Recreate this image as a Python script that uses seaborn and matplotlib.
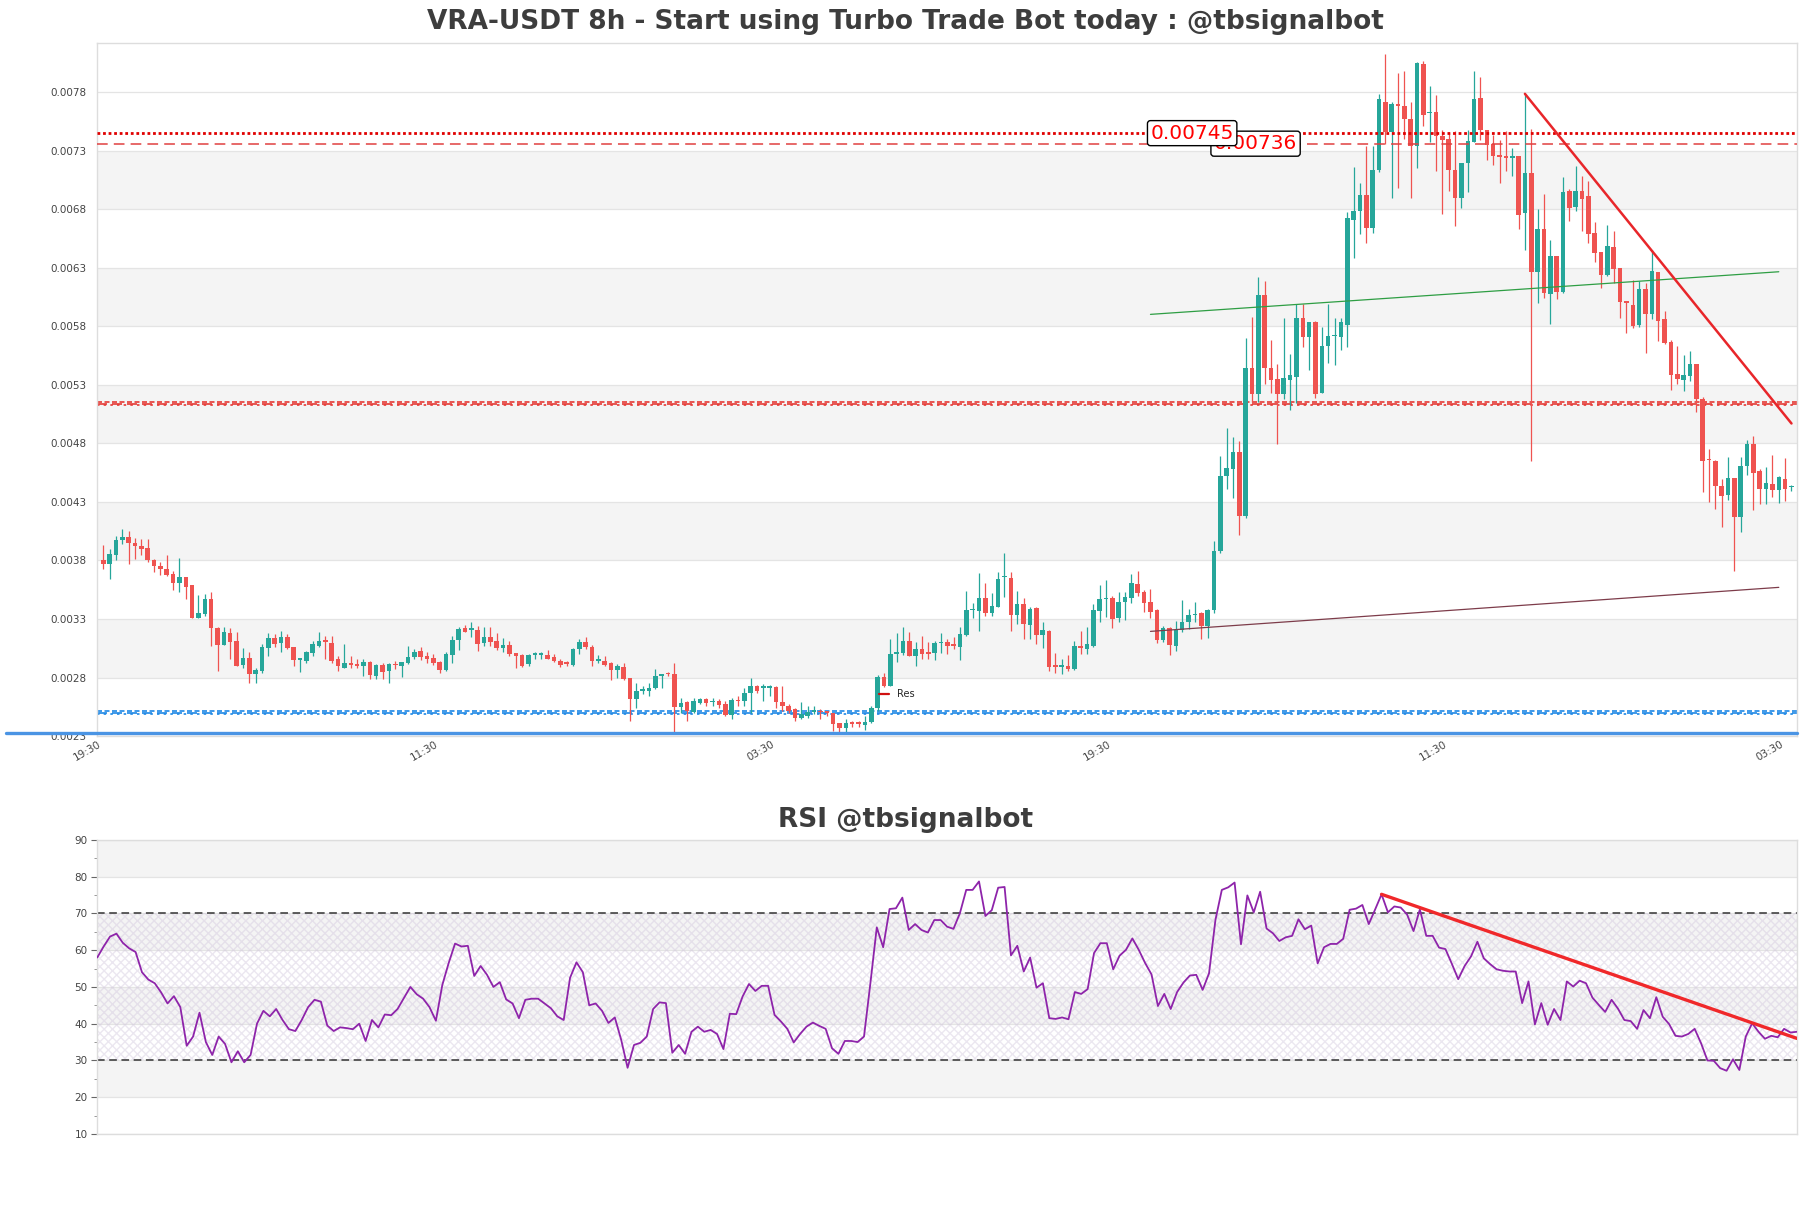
import numpy as np
import matplotlib
matplotlib.use("Agg")
import matplotlib.pyplot as plt
from matplotlib.lines import Line2D
from matplotlib.ticker import AutoMinorLocator
import seaborn as sns

# prices, in units of 1e-4 (38.00 -> 0.0038)
open_e4 = [
    38.00, 37.72, 38.49, 39.72, 40.00, 39.52, 39.26, 39.06, 38.06, 37.54,
    37.29, 36.86, 36.09, 36.57, 35.86, 33.06, 33.43, 34.71, 32.20, 30.77,
    31.80, 31.11, 29.05, 29.65, 28.31, 28.57, 30.54, 31.34, 30.94, 31.45,
    30.60, 29.51, 29.40, 30.08, 30.71, 31.08, 30.94, 29.57, 28.85, 29.22,
    29.17, 29.00, 29.34, 28.14, 29.08, 28.54, 29.10, 29.00, 29.22, 29.71,
    30.25, 29.85, 29.65, 29.34, 28.62, 29.94, 31.17, 32.20, 32.09, 32.05,
    30.94, 31.48, 31.11, 30.51, 30.80, 30.08, 29.92, 29.14, 29.92, 29.92,
    29.92, 29.72, 29.43, 29.20, 29.09, 30.43, 31.00, 30.63, 29.40, 29.43,
    29.23, 28.66, 28.89, 27.94, 26.14, 26.88, 26.86, 27.14, 28.09, 28.29,
    28.29, 25.48, 25.91, 25.08, 25.86, 26.14, 25.89, 26.00, 25.71, 24.80,
    26.02, 26.00, 26.71, 27.29, 27.12, 27.12, 27.20, 25.91, 25.57, 25.28,
    24.51, 24.71, 25.06, 25.07, 25.02, 24.94, 24.08, 23.65, 24.10, 24.07,
    23.94, 24.23, 25.37, 28.06, 27.29, 30.04, 30.06, 31.15, 29.86, 30.43,
    30.08, 30.06, 30.92, 31.00, 30.74, 30.63, 31.63, 33.75, 33.71, 34.77,
    33.51, 34.06, 36.55, 36.49, 33.34, 34.29, 32.48, 33.94, 31.63, 32.00,
    28.93, 28.89, 28.94, 28.71, 30.59, 30.43, 30.71, 33.71, 34.69, 34.80,
    33.06, 34.43, 34.80, 36.00, 35.34, 34.49, 33.80, 31.20, 32.23, 30.71,
    32.06, 32.77, 33.32, 33.51, 32.43, 33.77, 38.77, 45.19, 45.77, 47.30,
    41.80, 54.40, 52.18, 60.65, 54.40, 53.49, 52.18, 53.42, 53.68, 58.69,
    57.07, 58.40, 52.28, 56.35, 57.14, 57.07, 58.14, 67.09, 67.84, 69.21,
    66.44, 71.32, 77.18, 74.58, 76.88, 76.86, 75.72, 73.44, 80.44, 76.19,
    76.27, 74.25, 73.99, 71.39, 68.95, 71.97, 73.76, 77.49, 74.79, 73.57,
    72.66, 72.57, 72.38, 72.57, 67.69, 71.10, 62.63, 66.32, 60.73, 63.99,
    60.95, 69.59, 68.17, 69.59, 69.16, 65.98, 64.33, 62.37, 64.79, 62.94,
    60.10, 59.79, 58.08, 61.15, 59.02, 62.63, 58.59, 56.66, 53.91, 53.42,
    53.76, 54.76, 51.83, 46.58, 46.52, 44.39, 43.59, 45.01, 41.75, 46.04,
    47.94, 45.61, 44.11, 44.53, 44.05, 44.96, 44.24,
]
high_e4 = [
    39.29, 39.00, 40.06, 40.72, 40.49, 39.92, 39.86, 39.86, 38.14, 37.86,
    38.43, 37.14, 38.20, 36.57, 35.91, 35.06, 35.14, 35.34, 32.28, 32.28,
    32.20, 31.85, 30.51, 30.14, 28.85, 30.85, 31.77, 31.71, 31.94, 31.71,
    30.62, 29.62, 30.28, 31.14, 31.85, 31.57, 31.57, 29.85, 30.85, 29.85,
    29.62, 29.62, 29.40, 29.14, 29.28, 29.28, 29.40, 29.34, 30.71, 30.42,
    30.62, 30.14, 30.00, 29.42, 30.22, 31.51, 32.34, 32.48, 32.71, 32.43,
    32.28, 32.28, 31.77, 31.34, 31.08, 30.08, 30.00, 30.00, 30.14, 30.14,
    30.34, 30.00, 29.57, 29.43, 30.49, 31.29, 31.43, 30.77, 29.92, 29.80,
    29.29, 29.14, 29.23, 28.00, 27.57, 27.29, 27.49, 28.71, 28.34, 28.43,
    29.23, 26.23, 26.00, 26.28, 26.23, 26.28, 26.26, 26.14, 26.00, 26.28,
    26.43, 27.08, 28.00, 27.34, 27.43, 27.37, 27.29, 27.29, 25.71, 25.37,
    25.91, 25.57, 25.57, 25.28, 25.05, 25.00, 24.14, 24.48, 24.28, 24.28,
    24.71, 25.57, 28.23, 28.37, 31.29, 31.77, 32.29, 31.86, 31.00, 31.57,
    31.00, 31.15, 31.77, 31.29, 31.43, 32.29, 35.43, 34.37, 36.94, 36.09,
    35.23, 37.00, 38.66, 37.00, 35.37, 34.77, 34.00, 34.06, 32.71, 32.06,
    30.08, 29.57, 29.91, 31.08, 32.00, 32.28, 34.29, 35.91, 36.34, 35.00,
    35.34, 35.29, 36.86, 37.09, 35.51, 35.57, 33.86, 32.37, 32.28, 32.86,
    34.63, 33.86, 34.43, 33.57, 33.86, 39.63, 46.91, 49.35, 48.54, 48.21,
    57.00, 58.79, 62.21, 61.88, 56.84, 54.79, 58.69, 55.63, 59.87, 59.87,
    58.40, 58.47, 57.91, 59.87, 58.69, 58.69, 67.74, 71.58, 70.28, 73.44,
    73.44, 77.83, 81.25, 77.18, 79.62, 79.85, 77.12, 80.59, 80.70, 78.55,
    77.74, 74.74, 74.58, 74.71, 71.97, 74.74, 79.85, 79.30, 74.79, 74.36,
    73.94, 74.65, 73.23, 72.57, 77.86, 74.85, 68.03, 69.31, 65.41, 64.00,
    70.75, 69.76, 71.66, 70.81, 70.38, 66.89, 64.33, 66.69, 66.12, 63.00,
    60.16, 61.95, 61.86, 61.72, 64.50, 62.63, 59.30, 56.81, 56.32, 55.53,
    55.90, 54.76, 51.92, 47.51, 46.58, 44.96, 46.80, 45.01, 46.86, 48.28,
    48.59, 45.81, 45.95, 47.00, 45.24, 46.72, 44.45,
]
low_e4 = [
    37.23, 36.43, 38.00, 39.43, 37.66, 38.14, 38.43, 37.86, 37.00, 36.77,
    36.71, 35.51, 35.34, 34.71, 33.06, 33.06, 33.28, 30.71, 28.57, 30.77,
    29.57, 29.00, 28.85, 27.57, 27.57, 28.42, 29.85, 30.57, 30.20, 30.42,
    29.00, 28.48, 29.28, 29.85, 30.57, 29.57, 29.28, 28.57, 28.77, 28.85,
    28.80, 28.14, 27.85, 27.85, 27.85, 27.57, 28.71, 28.05, 29.14, 29.57,
    29.48, 29.28, 29.05, 28.37, 28.57, 29.22, 30.31, 31.91, 31.42, 30.28,
    30.71, 30.71, 30.37, 30.14, 29.85, 28.85, 28.86, 29.00, 29.57, 29.57,
    29.57, 29.29, 28.86, 29.00, 29.00, 30.00, 30.43, 29.00, 29.20, 29.00,
    27.80, 28.00, 27.80, 24.28, 25.43, 26.57, 26.43, 26.98, 27.14, 28.14,
    23.28, 25.00, 24.28, 25.00, 25.71, 25.57, 25.57, 25.43, 24.71, 24.43,
    25.57, 25.57, 25.00, 26.71, 26.00, 26.43, 25.43, 25.14, 25.00, 24.28,
    24.43, 24.57, 24.86, 24.43, 24.71, 23.43, 23.14, 23.37, 23.80, 23.80,
    23.51, 24.14, 25.14, 27.23, 27.29, 29.29, 29.94, 29.80, 29.00, 29.57,
    29.57, 29.51, 30.09, 29.99, 30.43, 29.51, 31.57, 33.08, 32.00, 33.23,
    33.23, 34.00, 34.86, 32.00, 32.57, 31.28, 31.28, 30.85, 30.54, 28.57,
    28.42, 28.34, 28.57, 28.65, 30.00, 30.05, 30.57, 32.77, 33.14, 32.20,
    32.77, 32.91, 34.37, 35.00, 33.63, 33.08, 30.94, 31.00, 29.91, 30.28,
    31.91, 32.14, 32.71, 31.28, 31.37, 33.51, 38.67, 44.14, 43.33, 40.14,
    41.64, 51.53, 51.53, 53.09, 52.28, 47.98, 51.79, 50.82, 51.47, 56.19,
    54.23, 51.89, 52.28, 54.88, 54.72, 55.96, 56.19, 63.84, 65.85, 65.14,
    65.95, 71.16, 73.54, 68.95, 69.79, 74.02, 68.95, 71.49, 75.07, 73.76,
    71.23, 67.58, 69.53, 66.54, 68.07, 69.44, 73.76, 73.93, 72.23, 71.81,
    70.24, 71.24, 70.81, 66.27, 64.56, 46.52, 60.01, 60.44, 58.17, 60.36,
    60.87, 66.98, 67.83, 66.12, 65.13, 63.48, 61.29, 62.29, 61.72, 58.68,
    57.46, 57.88, 57.97, 55.70, 58.65, 56.75, 56.46, 52.57, 53.05, 52.49,
    53.34, 50.64, 43.82, 43.03, 42.40, 40.84, 43.20, 37.06, 40.41, 45.30,
    42.34, 42.83, 42.83, 43.40, 42.91, 43.11, 43.91,
]
close_e4 = [
    37.66, 38.57, 39.77, 40.00, 39.49, 39.23, 39.00, 38.00, 37.49, 37.23,
    36.77, 36.09, 36.57, 35.77, 33.06, 33.51, 34.71, 32.20, 30.77, 31.91,
    31.05, 29.00, 29.65, 28.31, 28.62, 30.60, 31.34, 30.85, 31.45, 30.54,
    29.51, 29.54, 30.14, 30.88, 31.11, 31.05, 29.42, 29.00, 29.22, 29.05,
    29.00, 29.34, 28.19, 29.05, 28.48, 29.14, 29.05, 29.34, 29.74, 30.20,
    29.77, 29.57, 29.22, 28.65, 29.99, 31.22, 32.14, 31.91, 32.14, 30.85,
    31.45, 31.05, 30.51, 30.80, 30.05, 29.85, 29.00, 29.92, 29.94, 29.94,
    29.57, 29.43, 29.09, 29.17, 30.43, 31.00, 30.57, 29.43, 29.49, 29.09,
    28.66, 29.00, 27.86, 26.14, 26.88, 26.94, 27.14, 28.14, 28.29, 28.26,
    25.48, 25.86, 25.14, 25.97, 26.14, 25.80, 25.93, 25.66, 24.80, 26.06,
    25.97, 26.71, 27.29, 26.86, 27.16, 27.16, 25.91, 25.57, 25.14, 24.51,
    24.86, 25.05, 25.10, 25.03, 24.98, 24.05, 23.65, 24.08, 24.06, 24.03,
    24.23, 25.43, 28.06, 27.29, 30.00, 30.08, 31.15, 29.86, 30.43, 30.00,
    30.04, 30.94, 30.96, 30.72, 30.70, 31.72, 33.80, 33.79, 34.77, 33.51,
    34.09, 36.43, 36.59, 33.34, 34.29, 32.57, 33.86, 31.63, 32.06, 28.91,
    28.89, 28.93, 28.71, 30.65, 30.55, 30.85, 33.77, 34.71, 34.73, 33.00,
    34.49, 34.91, 36.09, 35.23, 34.37, 33.63, 31.20, 32.23, 30.77, 32.06,
    32.71, 33.34, 33.36, 32.43, 33.77, 38.80, 45.19, 45.87, 47.30, 41.80,
    54.46, 52.18, 60.65, 54.40, 53.42, 52.18, 53.58, 53.81, 58.73, 57.07,
    58.40, 52.18, 56.35, 57.16, 57.18, 58.37, 67.25, 67.84, 69.21, 66.44,
    71.39, 77.41, 74.58, 77.02, 76.84, 75.72, 73.44, 80.53, 76.04, 76.23,
    74.25, 73.93, 71.39, 68.95, 71.97, 73.86, 77.44, 74.79, 73.51, 72.57,
    72.46, 72.34, 72.40, 67.54, 71.10, 62.63, 66.32, 60.87, 63.99, 60.95,
    69.48, 68.11, 69.59, 68.88, 65.90, 64.22, 62.37, 64.90, 62.91, 60.10,
    60.02, 58.03, 61.15, 59.02, 62.71, 58.45, 56.61, 53.82, 53.48, 53.82,
    54.76, 51.78, 46.52, 46.56, 44.39, 43.54, 45.01, 41.75, 46.04, 47.94,
    45.47, 44.11, 44.59, 44.05, 45.10, 44.11, 44.28,
]
rsi_vals = [
    58, 61, 63.7, 64.5, 62, 60.5, 59.5, 54, 52, 51,
    48.5, 45.5, 47.5, 44.5, 34, 36.5, 43, 35, 31.5, 36.5,
    34.5, 29.5, 32.5, 29.5, 31.5, 40, 43.5, 42, 44, 41,
    38.5, 38, 41, 44.5, 46.5, 46, 39.5, 38, 39, 38.8,
    38.5, 40, 35.3, 41, 39, 42.5, 42.3, 44, 47, 50,
    48, 46.8, 44.5, 40.8, 50.5, 56.5, 61.8, 61, 61.2, 53,
    55.7, 53.3, 50, 51.3, 46.6, 45.5, 41.5, 46.5, 46.8, 46.8,
    45.5, 44.2, 42, 41, 52.5, 56.7, 54, 45, 45.5, 43.5,
    40.2, 41.7, 35.6, 28, 34.2, 34.8, 36.5, 44.0, 45.8, 45.6,
    32.1, 34.2, 31.8, 37.8, 39.2, 37.8, 38.3, 37.2, 33.1, 42.7,
    42.6, 47.4, 50.8, 48.9, 50.3, 50.3, 42.4, 40.6, 38.6, 34.9,
    37.2, 39.2, 40.3, 39.4, 38.6, 33.3, 31.8, 35.3, 35.3, 35.0,
    36.5, 51.0, 66.2, 60.8, 71.2, 71.4, 74.3, 65.5, 67.1, 65.5,
    64.8, 68.2, 68.2, 66.4, 65.8, 70.0, 76.4, 76.4, 78.7, 69.3,
    70.9, 77.0, 77.2, 58.6, 61.2, 54.2, 58.0, 49.8, 51.0, 41.5,
    41.3, 41.7, 41.2, 48.6, 48.1, 49.4, 59.2, 61.9, 61.9, 54.8,
    58.5, 60.1, 63.2, 60.1, 56.5, 53.4, 44.8, 48.1, 44.0, 48.6,
    51.2, 53.1, 53.3, 49.2, 53.7, 68.2, 76.4, 77.1, 78.4, 61.6,
    74.9, 70.3, 75.9, 65.9, 64.6, 62.5, 63.5, 63.9, 68.4, 65.7,
    66.7, 56.4, 60.8, 61.7, 61.7, 63.1, 71.0, 71.3, 72.3, 67.1,
    71.1, 75.2, 70.3, 71.9, 71.6, 69.7, 65.2, 71.1, 63.9, 63.9,
    60.7, 60.3, 56.3, 52.1, 55.7, 58.3, 62.3, 57.8, 56.2, 54.8,
    54.4, 54.2, 54.2, 45.6, 51.5, 39.8, 45.6, 39.7, 44.0, 41.0,
    51.5, 50.1, 51.7, 51.0, 47.1, 45.1, 43.2, 46.5, 44.1, 41.0,
    40.7, 38.6, 43.7, 41.5, 47.2, 41.9, 39.9, 36.7, 36.5, 37.2,
    38.6, 34.7, 30.0, 29.9, 27.9, 27.2, 30.3, 27.4, 36.5, 40.1,
    37.8, 35.9, 36.7, 36.3, 38.6, 37.6, 37.8,
]

tick_pos = [0, 53, 106, 159, 212, 265]
tick_labels = ["19:30", "11:30", "03:30", "19:30", "11:30", "03:30"]
price_ticks = [0.0023, 0.0028, 0.0033, 0.0038, 0.0043, 0.0048,
               0.0053, 0.0058, 0.0063, 0.0068, 0.0073, 0.0078]
rsi_ticks = [10, 20, 30, 40, 50, 60, 70, 80, 90]

# levels and trend lines
level_hi = 0.00745
level_hi2 = 0.00736
res_level = 0.00514
sup_level = 0.0025
sup_low = 0.002328
green_trend_x, green_trend_y = [165, 264], [0.005902, 0.006266]
brown_trend_x, brown_trend_y = [165, 264], [0.003194, 0.00357]
red_trend_x, red_trend_y = [224, 266], [0.007786, 0.00497]
rsi_trend_x, rsi_trend_y = [201, 266], [75.2, 36.0]

GREEN = "#26a69a"
RED = "#ef5350"
BAND = "#f4f4f4"
GRID = "#e4e4e4"
SPINE = "#dddddd"

sns.set_style("white")
plt.rcParams["font.family"] = ["DejaVu Sans"]

o = np.array(open_e4) * 1e-4
h = np.array(high_e4) * 1e-4
l = np.array(low_e4) * 1e-4
c = np.array(close_e4) * 1e-4
x = np.arange(len(o))
up = c >= o
dn = ~up

fig = plt.figure(figsize=(18.11, 12.08), dpi=100)
ax = fig.add_axes([0.0537, 0.3907, 0.9385, 0.5737])
ax2 = fig.add_axes([0.0537, 0.0613, 0.9385, 0.2434])

# ---- price panel
for lo in [0.0028, 0.0038, 0.0048, 0.0058, 0.0068]:
    ax.axhspan(lo, lo + 0.0005, color=BAND, zorder=0, lw=0)
for t in price_ticks:
    ax.axhline(t, color=GRID, lw=0.9, zorder=0.5)

ax.vlines(x[up], l[up], h[up], color=GREEN, lw=0.9, zorder=3)
ax.vlines(x[dn], l[dn], h[dn], color=RED, lw=0.9, zorder=3)
body_bot = np.minimum(o, c)
body_h = np.maximum(np.abs(c - o), 0.000014)
ax.bar(x[up], body_h[up], bottom=body_bot[up], width=0.72, color=GREEN, lw=0, zorder=4)
ax.bar(x[dn], body_h[dn], bottom=body_bot[dn], width=0.72, color=RED, lw=0, zorder=4)

ax.axhline(level_hi, color="#e00000", ls=(0, (1, 1)), lw=2.0, zorder=5)
ax.axhline(level_hi2, color="#e04040", ls=(0, (7, 4)), lw=1.1, zorder=5)
for dy, pat in [(0.000011, (0, (3, 1.5))), (-0.000011, (0, (1.5, 2.5))), (0.0, (0, (6, 3)))]:
    ax.axhline(res_level + dy, color="#e53935", ls=pat, lw=1.2, zorder=2)
    ax.axhline(sup_level + dy, color="#1e88e5", ls=pat, lw=1.2, zorder=2)
ax.axhline(sup_low, xmin=-0.0535, xmax=1.0, color="#4a94e4", lw=2.4, zorder=5, clip_on=False)

sns.lineplot(x=green_trend_x, y=green_trend_y, ax=ax, color="#2e9e44", lw=0.9, zorder=6)
sns.lineplot(x=brown_trend_x, y=brown_trend_y, ax=ax, color="#7d3c4a", lw=0.9, zorder=6)
sns.lineplot(x=red_trend_x, y=red_trend_y, ax=ax, color="#e8262a", lw=1.8, zorder=6)

ax.text(175, level_hi2, "0.00736", color="red", fontsize=14.5, va="center", zorder=7,
        bbox=dict(boxstyle="round,pad=0.15", fc="white", ec="black", lw=1))
ax.text(165, level_hi, "0.00745", color="red", fontsize=14.5, va="center", zorder=8,
        bbox=dict(boxstyle="round,pad=0.15", fc="white", ec="black", lw=1))

ax.legend(handles=[Line2D([0], [0], color="#d01010", lw=1.6)], labels=["Res"],
          loc="center left", bbox_to_anchor=(0.455, 0.06), frameon=False,
          fontsize=7, handlelength=1.0)

ax.set_xlim(-0.95, 266.85)
ax.set_ylim(0.0023, 0.00822)
ax.set_yticks(price_ticks)
ax.set_yticklabels(["%.4f" % t for t in price_ticks])
ax.set_xticks(tick_pos)
ax.set_xticklabels(tick_labels, rotation=30, ha="right")
ax.tick_params(axis="y", length=0, pad=8, labelsize=7.5, labelcolor="#444444")
ax.tick_params(axis="x", length=0, pad=2, labelsize=7.5, labelcolor="#444444")
ax.set_xlabel("")
ax.set_ylabel("")
for s in ax.spines.values():
    s.set_color(SPINE)
    s.set_linewidth(1)

# ---- RSI panel
for lo in [20, 40, 60, 80]:
    ax2.axhspan(lo, lo + 10, color=BAND, zorder=0, lw=0)
for t in rsi_ticks:
    ax2.axhline(t, color=GRID, lw=0.9, zorder=0.5)
ax2.fill_between([0, len(rsi_vals) - 1], 30, 70, facecolor="none", edgecolor="#cfc3db",
                 hatch="xxxx", lw=0, alpha=0.4, zorder=1)
ax2.axhline(70, color="#333333", ls=(0, (5, 3)), lw=1.1, zorder=2)
ax2.axhline(30, color="#333333", ls=(0, (5, 3)), lw=1.1, zorder=2)
sns.lineplot(x=np.arange(len(rsi_vals)), y=rsi_vals, ax=ax2, color="#8e24aa", lw=1.3, zorder=3)
sns.lineplot(x=rsi_trend_x, y=rsi_trend_y, ax=ax2, color="#f0282a", lw=2.4, zorder=4)

ax2.set_xlim(0, len(rsi_vals) - 1)
ax2.set_ylim(10, 90)
ax2.set_yticks(rsi_ticks)
ax2.yaxis.set_minor_locator(AutoMinorLocator(2))
ax2.set_xticks([])
ax2.tick_params(axis="y", which="major", left=True, length=4, width=0.8, color="#666666",
                labelsize=7.5, labelcolor="#444444", pad=3)
ax2.tick_params(axis="y", which="minor", left=True, length=2.5, width=0.6, color="#888888")
ax2.set_xlabel("")
ax2.set_ylabel("")
for s in ax2.spines.values():
    s.set_color(SPINE)
    s.set_linewidth(1)

fig.text(0.5, 0.9818, "VRA-USDT 8h - Start using Turbo Trade Bot today : @tbsignalbot",
         ha="center", va="center", fontsize=19, fontweight="bold", color="#3d3d3d")
fig.text(0.5, 0.3212, "RSI @tbsignalbot", ha="center", va="center",
         fontsize=19, fontweight="bold", color="#3d3d3d")

fig.savefig("out.png", dpi=100)
